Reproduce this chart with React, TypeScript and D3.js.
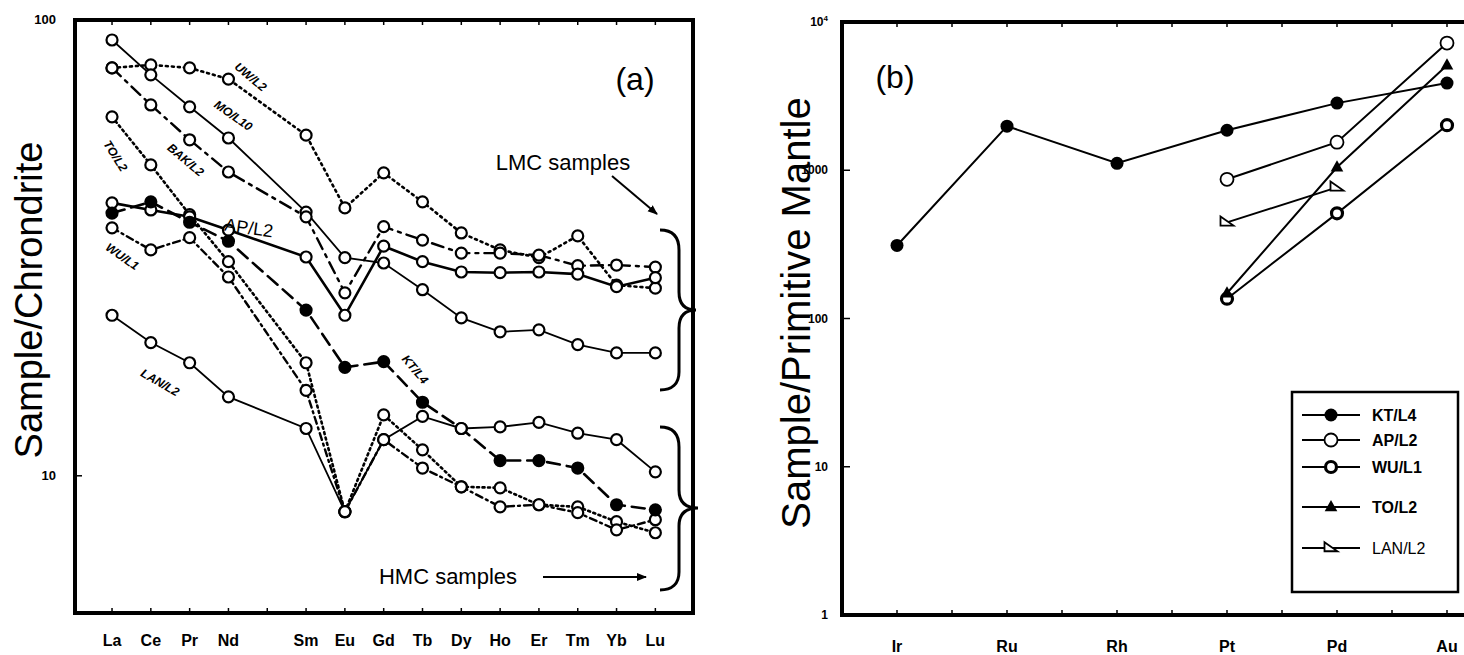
import React from "react";
import * as d3 from "d3";

// ---------- Panel (a) data: REE / chondrite ----------
const reeLabels = ["La", "Ce", "Pr", "Nd", "Sm", "Eu", "Gd", "Tb", "Dy", "Ho", "Er", "Tm", "Yb", "Lu"];
const reeIndex = [0, 1, 2, 3, 5, 6, 7, 8, 9, 10, 11, 12, 13, 14];
const uwL2 = [78.5, 79.7, 78.5, 74.2, 55.9, 38.7, 46.2, 39.9, 34.1, 31.3, 30.1, 33.6, 26.2, 25.8];
const moL10 = [90.4, 75.8, 64.5, 55.1, 37.9, 30.1, 29.3, 25.6, 22.2, 20.7, 20.9, 19.4, 18.6, 18.6];
const bakL2 = [78.5, 65.1, 54.6, 46.4, 37.0, 25.2, 35.2, 32.9, 30.8, 30.8, 30.5, 28.9, 29.0, 28.7];
const apL2a = [39.7, 38.3, 37.0, 34.6, 30.2, 22.5, 31.9, 29.5, 28.0, 27.9, 28.0, 27.7, 26.0, 27.2];
const toL2a = [61.3, 48.1, 37.4, 29.5, 17.7, 8.34, 13.6, 11.4, 9.46, 9.41, 8.64, 8.55, 7.93, 7.5];
const wuL1a = [35.0, 31.3, 33.3, 27.3, 15.4, 8.34, 12.0, 10.4, 9.46, 8.55, 8.64, 8.3, 7.61, 8.01];
const ktL4a = [37.7, 39.9, 36.0, 32.7, 23.1, 17.3, 17.8, 14.5, 12.7, 10.8, 10.8, 10.4, 8.64, 8.42];
const lanL2a = [22.5, 19.6, 17.7, 14.9, 12.7, 8.34, 12.0, 13.5, 12.7, 12.8, 13.1, 12.4, 12.0, 10.2];
const yTicksA = [10, 100];

// ---------- Panel (b) data: PGE / primitive mantle ----------
const pgeLabels = ["Ir", "Ru", "Rh", "Pt", "Pd", "Au"];
const ktL4b = [311, 1983, 1114, 1862, 2837, 3873];
const apL2b = [null, null, null, 869, 1546, 7212];
const wuL1b = [null, null, null, 136, 512, 2014];
const toL2b = [null, null, null, 148, 1047, 5100];
const lanL2b = [null, null, null, 445, 767, null];
const yTicksB = [1, 10, 100, 1000, 10000];
const legendNames = ["KT/L4", "AP/L2", "WU/L1", "TO/L2", "LAN/L2"];

const FONT = "'Liberation Sans', Arial, Helvetica, sans-serif";

type SeriesA = { name: string; values: number[]; dash: string; width: number; filled: boolean };

export default function App() {
  // ---- scales (a)
  const xA = d3.scaleLinear().domain([-0.954, 14.97]).range([75, 693]);
  const yA = d3.scaleLog().domain([5, 100]).range([613, 20]);
  // ---- scales (b)
  const xB = d3.scaleLinear().domain([0, 5]).range([897, 1447]);
  const yB = d3.scaleLog().domain([1, 10000]).range([615, 22]);

  const seriesA: SeriesA[] = [
    { name: "UW/L2", values: uwL2, dash: "2,4", width: 2.6, filled: false },
    { name: "MO/L10", values: moL10, dash: "", width: 1.8, filled: false },
    { name: "BAK/L2", values: bakL2, dash: "12,6,3,6", width: 2.4, filled: false },
    { name: "TO/L2", values: toL2a, dash: "2,3.5", width: 2.6, filled: false },
    { name: "AP/L2", values: apL2a, dash: "", width: 2.6, filled: false },
    { name: "WU/L1", values: wuL1a, dash: "7,4,2,4", width: 2.4, filled: false },
    { name: "KT/L4", values: ktL4a, dash: "13,7", width: 2.6, filled: true },
    { name: "LAN/L2", values: lanL2a, dash: "", width: 1.8, filled: false },
  ];

  const lineA = d3
    .line<[number, number]>()
    .x((d) => xA(d[0]))
    .y((d) => yA(d[1]));

  const lineB = d3
    .line<[number, number]>()
    .x((d) => xB(d[0]))
    .y((d) => yB(d[1]));

  const seriesB = [
    { name: "KT/L4", values: ktL4b },
    { name: "AP/L2", values: apL2b },
    { name: "WU/L1", values: wuL1b },
    { name: "TO/L2", values: toL2b },
    { name: "LAN/L2", values: lanL2b },
  ];

  const tri = (cx: number, cy: number, s: number) =>
    `M${cx},${cy - s} L${cx + s * 0.9},${cy + s * 0.6} L${cx - s * 0.9},${cy + s * 0.6} Z`;
  const lanTri = (cx: number, cy: number, s: number) =>
    `M${cx - s},${cy - s * 0.9} L${cx + s},${cy + s * 0.5} L${cx - s},${cy + s * 0.5} Z`;

  const drawMarkerB = (name: string, cx: number, cy: number, key: string | number) => {
    if (name === "KT/L4") return <circle key={key} cx={cx} cy={cy} r={6.5} fill="#000" />;
    if (name === "AP/L2")
      return <circle key={key} cx={cx} cy={cy} r={6.5} fill="#fff" stroke="#000" strokeWidth={1.8} />;
    if (name === "WU/L1")
      return <circle key={key} cx={cx} cy={cy} r={5.5} fill="#fff" stroke="#000" strokeWidth={3.2} />;
    if (name === "TO/L2") return <path key={key} d={tri(cx, cy, 7)} fill="#000" />;
    return <path key={key} d={lanTri(cx, cy, 6.5)} fill="#fff" stroke="#000" strokeWidth={1.8} />;
  };

  const annotations = [
    { t: "UW/L2", x: 248, y: 80, r: 40, s: 12 },
    { t: "MO/L10", x: 231, y: 119, r: 35, s: 12 },
    { t: "BAK/L2", x: 183, y: 163, r: 40, s: 12 },
    { t: "TO/L2", x: 112, y: 158, r: 58, s: 12 },
    { t: "AP/L2", x: 248, y: 234, r: 8, s: 18 },
    { t: "WU/L1", x: 120, y: 260, r: 35, s: 12 },
    { t: "KT/L4", x: 412, y: 372, r: 50, s: 12 },
    { t: "LAN/L2", x: 158, y: 386, r: 30, s: 12 },
  ];

  const tickIdx = d3.range(0, 15);
  const tickIdxB = d3.range(0, 11).map((i) => i * 0.5);

  return (
    <svg
      width={1464}
      height={655}
      viewBox="0 0 1464 655"
      style={{ position: "absolute", left: 0, top: 0, background: "#fff" }}
      fontFamily={FONT}
    >
      <defs>
        <marker id="arr" viewBox="0 0 10 10" refX="9" refY="5" markerWidth="5" markerHeight="5" orient="auto">
          <path d="M0,1 L10,5 L0,9 Z" fill="#000" />
        </marker>
      </defs>
      <rect x={0} y={0} width={1464} height={655} fill="#fff" />

      {/* ================= Panel (a) ================= */}
      <g>
        {tickIdx.map((i) => (
          <g key={"ta" + i}>
            <line x1={xA(i)} x2={xA(i)} y1={20} y2={25} stroke="#000" strokeWidth={1.5} />
            <line x1={xA(i)} x2={xA(i)} y1={613} y2={608} stroke="#000" strokeWidth={1.5} />
          </g>
        ))}
        {yTicksA.map((v) => (
          <g key={"ya" + v}>
            <line x1={75} x2={82} y1={yA(v)} y2={yA(v)} stroke="#000" strokeWidth={1.5} />
            <text x={56} y={yA(v) + 4} textAnchor="end" fontSize={13} fontWeight="bold">
              {v}
            </text>
          </g>
        ))}
        {seriesA.map((s) => (
          <path
            key={s.name}
            d={lineA(s.values.map((v, i) => [reeIndex[i], v] as [number, number])) || ""}
            fill="none"
            stroke="#000"
            strokeWidth={s.width}
            strokeDasharray={s.dash}
            strokeLinecap={s.dash ? "round" : "butt"}
          />
        ))}
        {seriesA.map((s) =>
          s.values.map((v, i) => (
            <circle
              key={s.name + i}
              cx={xA(reeIndex[i])}
              cy={yA(v)}
              r={5.5}
              fill={s.filled ? "#000" : "#fff"}
              stroke="#000"
              strokeWidth={2.2}
            />
          ))
        )}
        {annotations.map((a) => (
          <text
            key={a.t}
            x={a.x}
            y={a.y}
            fontSize={a.s}
            fontStyle={a.s < 14 ? "italic" : "normal"}
            fontWeight={a.s < 14 ? "bold" : "normal"}
            textAnchor="middle"
            transform={`rotate(${a.r},${a.x},${a.y})`}
          >
            {a.t}
          </text>
        ))}
        <text x={635} y={90} fontSize={32} textAnchor="middle">(a)</text>
        <text x={563} y={170} fontSize={22} textAnchor="middle">LMC samples</text>
        <line x1={612} y1={176} x2={657} y2={214} stroke="#000" strokeWidth={2} markerEnd="url(#arr)" />
        <text x={448} y={584} fontSize={22} textAnchor="middle">HMC samples</text>
        <line x1={543} y1={577} x2={646} y2={577} stroke="#000" strokeWidth={2} markerEnd="url(#arr)" />
        <path
          d="M660,230 C672,230 679,236 679,250 L679,292 C679,304 685,310 696,310 C685,310 679,316 679,328 L679,372 C679,384 672,390 660,390"
          fill="none"
          stroke="#000"
          strokeWidth={3}
        />
        <path
          d="M660,427 C672,427 679,433 679,447 L679,490 C679,502 685,508 698,508 C685,508 679,514 679,526 L679,572 C679,584 672,590 660,590"
          fill="none"
          stroke="#000"
          strokeWidth={3}
        />
        <rect x={75} y={20} width={618} height={593} fill="none" stroke="#000" strokeWidth={4} />
        {reeLabels.map((l, i) => (
          <text key={l} x={xA(reeIndex[i])} y={646} fontSize={16} fontWeight="bold" textAnchor="middle">
            {l}
          </text>
        ))}
        <text x={0} y={0} fontSize={38} textAnchor="middle" transform={`translate(42,300) rotate(-90)`}>
          Sample/Chrondrite
        </text>
      </g>

      {/* ================= Panel (b) ================= */}
      <g>
        {tickIdxB.map((i) => (
          <g key={"tb" + i}>
            <line x1={xB(i)} x2={xB(i)} y1={22} y2={27} stroke="#000" strokeWidth={1.5} />
            <line x1={xB(i)} x2={xB(i)} y1={615} y2={610} stroke="#000" strokeWidth={1.5} />
          </g>
        ))}
        {yTicksB.map((v) => (
          <g key={"yb" + v}>
            <line x1={842} x2={850} y1={yB(v)} y2={yB(v)} stroke="#000" strokeWidth={1.5} />
            <text x={828} y={yB(v) + 4} textAnchor="end" fontSize={12} fontWeight="bold">
              {v === 10000 ? (
                <>
                  10<tspan fontSize={8} dy={-5}>4</tspan>
                </>
              ) : (
                v
              )}
            </text>
          </g>
        ))}
        {seriesB.map((s) => {
          const pts = s.values
            .map((v, i) => (v == null ? null : ([i, v] as [number, number])))
            .filter((p): p is [number, number] => p !== null);
          return <path key={s.name} d={lineB(pts) || ""} fill="none" stroke="#000" strokeWidth={2} />;
        })}
        {seriesB.map((s) =>
          s.values.map((v, i) => (v == null ? null : drawMarkerB(s.name, xB(i), yB(v), s.name + i)))
        )}
        <text x={895} y={88} fontSize={32} textAnchor="middle">(b)</text>
        <rect x={1292} y={392} width={166} height={200} fill="#fff" stroke="#000" strokeWidth={2.5} />
        {legendNames.map((n, i) => {
          const ly = [415, 440, 467, 507, 548][i];
          return (
            <g key={"lg" + n}>
              <line x1={1302} x2={1360} y1={ly} y2={ly} stroke="#000" strokeWidth={1.8} />
              {drawMarkerB(n, 1331, ly, "lm" + n)}
              <text x={1372} y={ly + 6} fontSize={16} fontWeight={i < 4 ? "bold" : "normal"}>
                {n}
              </text>
            </g>
          );
        })}
        <path d="M1470,22 L842,22 L842,615 L1470,615" fill="none" stroke="#000" strokeWidth={4} />
        {pgeLabels.map((l, i) => (
          <text key={l} x={xB(i)} y={652} fontSize={16} fontWeight="bold" textAnchor="middle">
            {l}
          </text>
        ))}
        <text x={0} y={0} fontSize={40} textAnchor="middle" transform={`translate(810,313) rotate(-90)`}>
          Sample/Primitive Mantle
        </text>
      </g>
    </svg>
  );
}
